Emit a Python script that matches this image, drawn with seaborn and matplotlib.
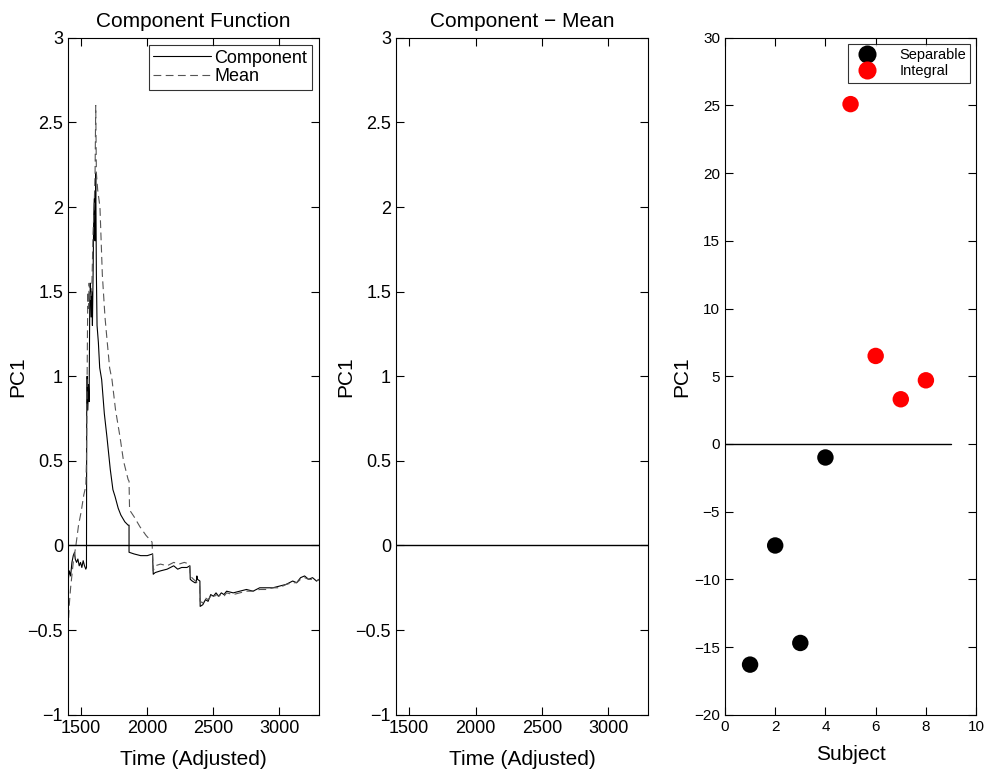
import pandas as pd
import matplotlib
matplotlib.use("Agg")
import matplotlib.pyplot as plt
from matplotlib.ticker import FuncFormatter
import seaborn as sns

# Componente PC1 a lo largo del tiempo (x repetidos = saltos verticales)
comp_t = [1400, 1410, 1420, 1430, 1440, 1450, 1455, 1465, 1475, 1485, 1495, 1505,
          1515, 1525, 1535, 1540, 1542, 1545, 1550, 1555, 1560, 1565, 1570, 1575,
          1580, 1585, 1590, 1595, 1600, 1605, 1610, 1615, 1620, 1630, 1640, 1655,
          1675, 1695, 1720, 1740, 1756, 1780, 1800, 1830, 1855, 1862, 1862, 1900,
          1950, 2000, 2040, 2045, 2060, 2100, 2150, 2200, 2230, 2260, 2300, 2322,
          2325, 2340, 2360, 2370, 2375, 2380, 2398, 2400, 2420, 2440, 2460, 2480,
          2500, 2520, 2540, 2560, 2580, 2600, 2650, 2700, 2750, 2800, 2850, 2900,
          2950, 3000, 3050, 3100, 3130, 3160, 3190, 3220, 3250, 3280, 3300]
comp_v = [-0.22, -0.15, -0.18, -0.10, -0.06, -0.04, -0.08, -0.10, -0.08, -0.12, -0.10, -0.13,
          -0.09, -0.12, -0.14, -0.13, 0.85, 1.00, 0.80, 0.95, 0.85, 1.45, 1.55, 1.35,
          1.50, 1.30, 1.60, 1.95, 2.05, 1.80, 2.20, 1.60, 1.30, 1.20, 1.05, 0.98,
          0.78, 0.64, 0.45, 0.33, 0.29, 0.22, 0.18, 0.14, 0.12, 0.12, -0.04, -0.05,
          -0.06, -0.06, -0.05, -0.17, -0.16, -0.15, -0.14, -0.12, -0.14, -0.13, -0.13, -0.12,
          -0.20, -0.21, -0.22, -0.22, -0.18, -0.20, -0.21, -0.36, -0.35, -0.32, -0.33, -0.29,
          -0.30, -0.28, -0.30, -0.28, -0.29, -0.27, -0.28, -0.27, -0.26, -0.27, -0.25, -0.25,
          -0.25, -0.24, -0.23, -0.21, -0.22, -0.19, -0.18, -0.20, -0.19, -0.21, -0.20]

# Media
mean_t = [1400, 1410, 1420, 1440, 1460, 1480, 1500, 1520, 1535, 1540, 1545, 1550,
          1555, 1560, 1570, 1580, 1590, 1600, 1605, 1610, 1615, 1625, 1642, 1660,
          1680, 1695, 1715, 1733, 1760, 1794, 1820, 1855, 1862, 1866, 1900, 1945,
          1990, 2036, 2045, 2060, 2100, 2150, 2200, 2240, 2280, 2320, 2325, 2350,
          2380, 2395, 2400, 2420, 2440, 2460, 2480, 2500, 2520, 2540, 2560, 2580,
          2600, 2650, 2700, 2750, 2800, 2850, 2900, 2950, 3000, 3050, 3100, 3130,
          3160, 3190, 3220, 3250, 3280, 3300]
mean_v = [-0.50, -0.35, -0.25, -0.10, 0.00, 0.12, 0.20, 0.30, 0.35, 0.50, 1.00, 1.50,
          1.40, 1.55, 1.45, 1.50, 1.85, 2.05, 2.20, 2.60, 2.20, 2.10, 2.00, 1.60,
          1.35, 1.22, 1.05, 0.98, 0.80, 0.64, 0.50, 0.39, 0.38, 0.21, 0.17, 0.11,
          0.06, 0.02, -0.15, -0.12, -0.11, -0.12, -0.10, -0.11, -0.10, -0.11, -0.18, -0.20,
          -0.22, -0.23, -0.33, -0.34, -0.31, -0.32, -0.30, -0.31, -0.29, -0.30, -0.29, -0.30,
          -0.28, -0.29, -0.28, -0.27, -0.27, -0.26, -0.26, -0.25, -0.25, -0.23, -0.22, -0.22,
          -0.20, -0.19, -0.20, -0.20, -0.21, -0.20]

# Puntuaciones PC1 por sujeto
sujetos = [1, 2, 3, 4, 5, 6, 7, 8]
pc1 = [-16.3, -7.5, -14.7, -1.0, 25.1, 6.5, 3.3, 4.7]
grupo = ["Separable"] * 4 + ["Integral"] * 4

sns.set_style("ticks")
plt.rcParams["font.family"] = ["Liberation Sans", "DejaVu Sans"]
plt.rcParams["xtick.direction"] = "in"
plt.rcParams["ytick.direction"] = "in"
plt.rcParams["xtick.top"] = True
plt.rcParams["ytick.right"] = True
for k in ["text.color", "axes.labelcolor", "xtick.color", "ytick.color", "axes.edgecolor"]:
    plt.rcParams[k] = "black"

fig = plt.figure(figsize=(9.85, 7.71), dpi=100)
ax1 = fig.add_axes([0.069, 0.073, 0.255, 0.878])
ax2 = fig.add_axes([0.402, 0.073, 0.256, 0.878])
ax3 = fig.add_axes([0.736, 0.073, 0.255, 0.878])

df_comp = pd.DataFrame({"t": comp_t, "v": comp_v})
df_mean = pd.DataFrame({"t": mean_t, "v": mean_v})

sns.lineplot(data=df_comp, x="t", y="v", ax=ax1, color="black", lw=0.8,
             estimator=None, sort=False, label="Component")
sns.lineplot(data=df_mean, x="t", y="v", ax=ax1, color="#555555", lw=0.8,
             estimator=None, sort=False, label="Mean", dashes=False)
ax1.lines[-1].set_linestyle((0, (7, 4)))

# formato tipo MATLAB: sin ".0" y con signo menos tipográfico
fmt = FuncFormatter(lambda v, pos: ("%g" % v).replace("-", "\u2212"))
for ax, titulo in [(ax1, "Component Function"), (ax2, "Component \u2212 Mean")]:
    ax.axhline(0, color="black", lw=1)
    ax.set_xlim(1400, 3300)
    ax.set_ylim(-1, 3)
    ax.set_xticks([1500, 2000, 2500, 3000])
    ax.set_yticks([-1, -0.5, 0, 0.5, 1, 1.5, 2, 2.5, 3])
    ax.yaxis.set_major_formatter(fmt)
    ax.set_title(titulo, fontsize=15, pad=8)
    ax.set_xlabel("Time (Adjusted)", fontsize=15, labelpad=10)
    ax.set_ylabel("PC1", fontsize=15, labelpad=0)
    ax.tick_params(labelsize=13, length=6, width=0.8)

leg = ax1.legend(loc="upper right", fontsize=13, frameon=True, fancybox=False,
                 edgecolor="black", borderpad=0.25, handlelength=3.2, labelspacing=0.1,
                 handletextpad=0.2, borderaxespad=0.4)
leg.get_frame().set_linewidth(0.8)

df_suj = pd.DataFrame({"sujeto": sujetos, "pc1": pc1, "grupo": grupo})
ax3.plot([0, 9], [0, 0], color="black", lw=1)
sns.scatterplot(data=df_suj, x="sujeto", y="pc1", hue="grupo", ax=ax3,
                palette={"Separable": "black", "Integral": "red"}, s=140,
                edgecolor="none", zorder=3)
ax3.set_xlim(0, 10)
ax3.set_ylim(-20, 30)
ax3.set_xticks(range(0, 11, 2))
ax3.set_yticks(range(-20, 31, 5))
ax3.yaxis.set_major_formatter(fmt)
ax3.set_xlabel("Subject", fontsize=15, labelpad=8)
ax3.set_ylabel("PC1", fontsize=15, labelpad=2)
ax3.tick_params(labelsize=11, length=6, width=0.8)
leg3 = ax3.legend(loc="upper right", fontsize=10.5, frameon=True, fancybox=False,
                  edgecolor="black", borderpad=0.3, labelspacing=0.15, markerscale=1.1,
                  handletextpad=1.2, borderaxespad=0.4)
leg3.get_frame().set_linewidth(0.8)

for ax in (ax1, ax2, ax3):
    for s in ax.spines.values():
        s.set_linewidth(0.8)

plt.savefig("out.png", dpi=100)
